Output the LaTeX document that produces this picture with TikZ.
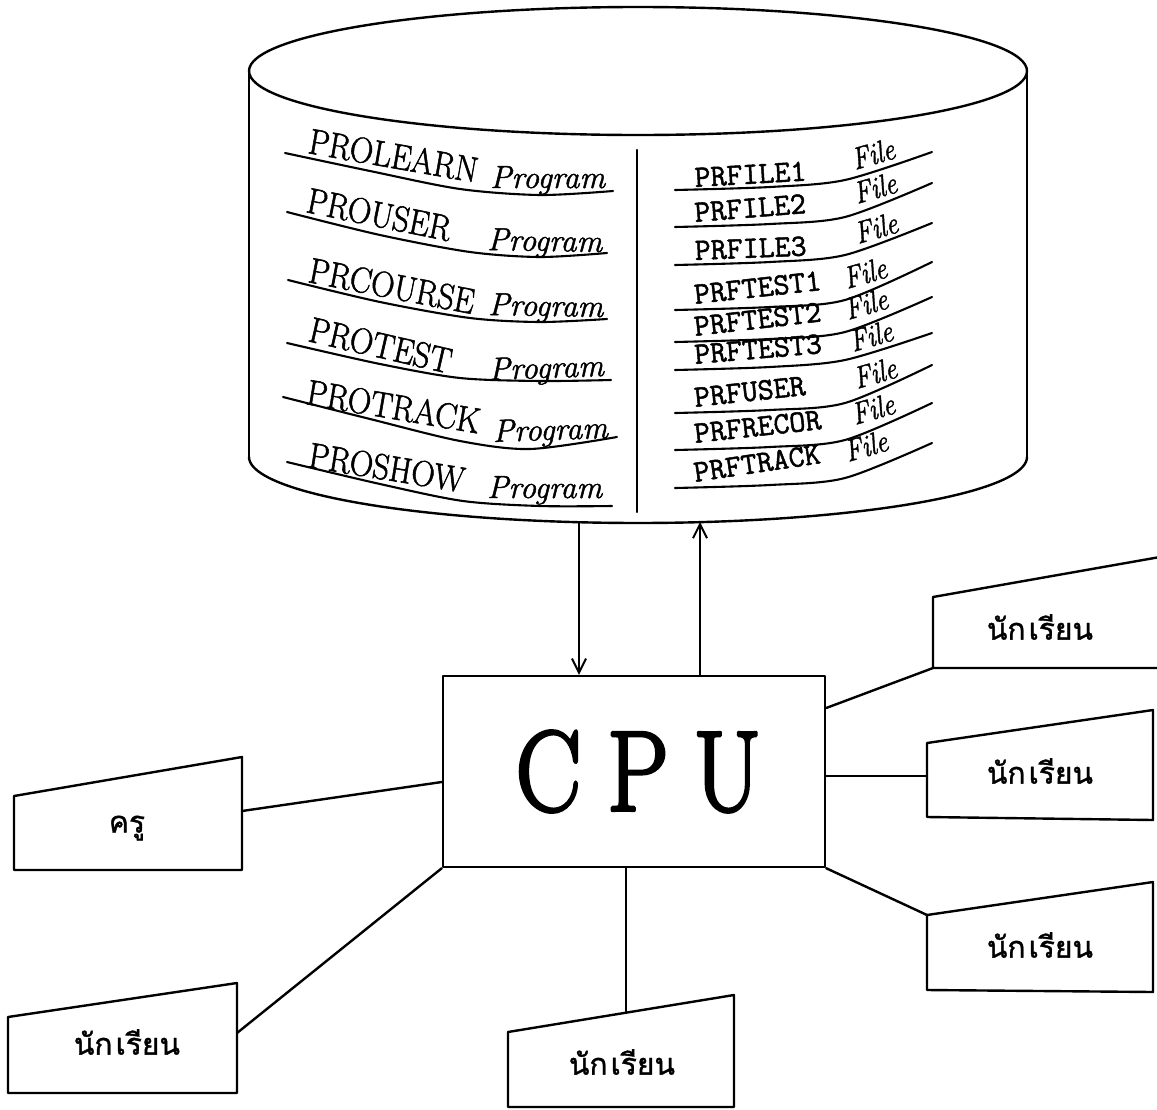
\documentclass[tikz,border=0pt]{standalone}
\usepackage{fontspec}
\usepackage{graphicx}
\newfontfamily\thaifont[Script=Thai, FakeBold=1.2]{Loma}
\newfontfamily\namefont{lmroman17-regular.otf}[FakeBold=1.6]
\newfontfamily\kindfont{lmroman12-italic.otf}[FakeBold=1.4]
\newfontfamily\filefont{lmmono12-regular.otf}[FakeBold=1.6]
\newfontfamily\cpufont{lmroman17-regular.otf}[FakeBold=3]
\usetikzlibrary{arrows.meta}
\tikzset{
  ink/.style={line width=2.4pt, line cap=round, line join=round},
  rule/.style={line width=2.1pt, line cap=round},
  prog name/.style={anchor=base west, inner sep=0pt, font=\namefont\fontsize{36}{36}\selectfont},
  prog kind/.style={anchor=base west, inner sep=0pt, font=\kindfont\fontsize{32}{32}\selectfont},
  file name/.style={anchor=base west, inner sep=0pt, font=\filefont\fontsize{31}{31}\selectfont},
  file kind/.style={anchor=base west, inner sep=0pt, font=\kindfont\fontsize{31}{31}\selectfont},
  thai label/.style={inner sep=0pt, font=\thaifont\fontsize{30}{30}\selectfont},
  data flow/.style={line width=2pt, -{Straight Barb[length=14pt,width=14pt,line width=2pt]}}
}
\newcommand\narrow[1]{\scalebox{0.9}[1]{#1}}
\newcommand\nakrian{นัก\hspace{3pt}เรียน}
\begin{document}
\begin{tikzpicture}[x=1pt,y=-1pt]
\useasboundingbox (0,0) rectangle (1157,1109);

% ---------- storage cylinder ----------
\draw[ink] (638,71) ellipse [x radius=389, y radius=64];
\draw[ink] (249,71) -- (249,457);
\draw[ink] (1027,71) -- (1027,457);
\draw[ink] plot[domain=180:0, samples=90, variable=\t] ({638+389*cos(\t)},{457+66*sin(\t)});
\draw[ink] (637,150) -- (637,512);
\coordinate (dbout) at (579,522);
\coordinate (dbin) at (700,522);

% program list (left half)
\foreach \i/\word/\x/\y/\a/\px/\py/\pa in {
  1/PROLEARN/307/153/-10/490/188/0,
  2/PROUSER/305/212/-11.5/487/250/-1,
  3/PRCOURSE/307/282/-11/488/315/-1,
  4/PROTEST/307/341/-13/489/380/2,
  5/PROTRACK/305/404/-9.7/493/442/2,
  6/PROSHOW/307/467/-9.3/487/498/0}{
  \node[rotate=\a, prog name] (pn\i) at (\x,\y) {\narrow{\word}};
  \node[rotate=\pa, prog kind] (pk\i) at (\px,\py) {Program};
}
\draw[rule] plot[smooth] coordinates {(285,153) (370,171) (460,189) (540,195) (613,191)};
\draw[rule] plot[smooth] coordinates {(287,212) (380,235) (470,252) (540,257) (607,253)};
\draw[rule] plot[smooth] coordinates {(288,280) (380,302) (470,318) (540,322) (607,319)};
\draw[rule] plot[smooth] coordinates {(287,343) (380,364) (460,378) (540,381) (611,380)};
\draw[rule] plot[smooth] coordinates {(283,397) (370,419) (460,441) (530,449) (617,437)};
\draw[rule] plot[smooth] coordinates {(287,462) (380,484) (463,501) (540,506) (612,506)};

% file list (right half)
\foreach \i/\word/\yl/\yr/\yp/\ap/\xf/\yf in {
  1/PRFILE1/190/152/187/3.3/855/170,
  2/PRFILE2/227/183/222/4.6/857/204,
  3/PRFILE3/265/223/260/2.3/858/244,
  4/PRFTEST1/310/262/304/6.3/847/289,
  5/PRFTEST2/342/297/336/6.6/848/320,
  6/PRFTEST3/370/333/364/4.9/853/352,
  7/PRFUSER/413/365/407/6.2/857/389,
  8/PRFRECOR/450/403/443/6.3/855/425,
  9/PRFTRACK/488/443/482/8.5/848/462}{
  \node[rotate=\ap, file name] (fn\i) at (695,\yp) {\word};
  \node[rotate=16, file kind] (fk\i) at (\xf,\yf) {\scalebox{0.85}[1]{File}};
  \draw[rule] plot[smooth] coordinates {(675,\yl) (770,\yl-3) (845,\yl-10) (932,\yr)};
}

% ---------- processor ----------
\node[draw, ink, minimum width=382pt, minimum height=191pt, inner sep=0pt] (cpu) at (634,771.5)
  {\scalebox{0.86}[1]{\cpufont\fontsize{114}{114}\selectfont
   \hspace{9pt}\makebox[104pt]{C}\makebox[104pt]{P}\makebox[104pt]{U}}};

% ---------- terminals ----------
\draw[ink] (14,796) -- (242,757) -- (242,870) -- (14,870) -- cycle;
\node[thai label] (teacher) at (127,828) {ครู};
\coordinate (tport) at (242,811);

\draw[ink] (8,1017) -- (237,983) -- (237,1093) -- (8,1093) -- cycle;
\node[thai label] (stA) at (127,1042) {\nakrian};
\coordinate (aport) at (237,1033);

\draw[ink] (508,1032) -- (734,995) -- (734,1107) -- (508,1107) -- cycle;
\node[thai label] (stB) at (622,1062) {\nakrian};
\coordinate (bport) at (626,1013);

\draw[ink] (1160,557) -- (933,597) -- (933,668) -- (1160,668);
\node[thai label] (stC) at (1040,627) {\nakrian};
\coordinate (cport) at (933,668);

\draw[ink] (927,743) -- (1153,710) -- (1153,820) -- (927,817) -- cycle;
\node[thai label] (stD) at (1040,771) {\nakrian};
\coordinate (dport) at (927,776);

\draw[ink] (927,915) -- (1153,882) -- (1153,992) -- (927,990) -- cycle;
\node[thai label] (stE) at (1040,945) {\nakrian};
\coordinate (eport) at (927,915);

% ---------- connections ----------
\draw[ink] (tport) -- ([yshift=-10.5pt]cpu.west);
\draw[ink] (aport) -- (cpu.south west);
\draw[ink] ([xshift=-8pt]cpu.south) -- (bport);
\draw[ink] ([yshift=63.5pt]cpu.east) -- (cport);
\draw[ink] ([yshift=-4.5pt]cpu.east) -- (dport);
\draw[ink] (cpu.south east) -- (eport);

\draw[data flow] (dbout) -- (dbout |- cpu.north);
\draw[data flow] (dbin |- cpu.north) -- (dbin);
\end{tikzpicture}
\end{document}
